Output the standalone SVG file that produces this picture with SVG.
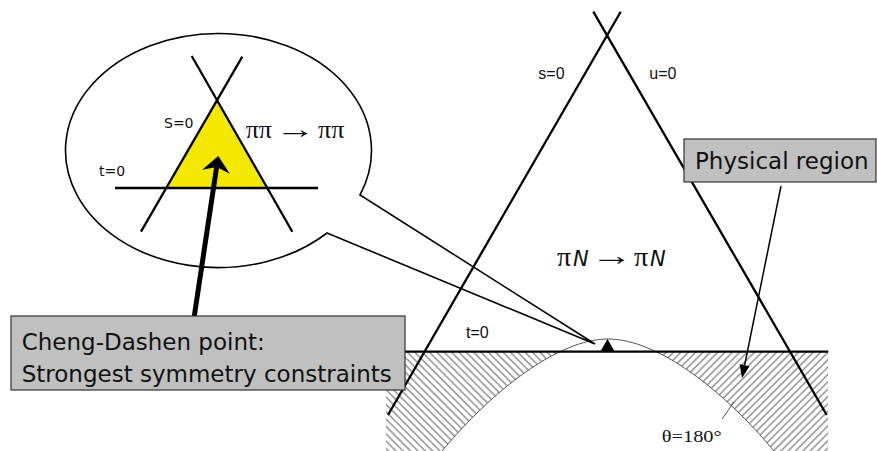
<svg xmlns="http://www.w3.org/2000/svg" width="877" height="451" viewBox="0 0 877 451">
<style>
.ln{stroke:#000;stroke-width:2.3;fill:none}
.thin{stroke:#444;stroke-width:0.9;fill:none}
.lab{font-family:"Liberation Sans",Arial,sans-serif;font-size:16px;fill:#111}
.elab{font-family:"DejaVu Sans",Verdana,sans-serif;font-size:14px;fill:#111}
.box{fill:#c0c0c0;stroke:#333;stroke-width:1.2}
.btxt{font-family:"DejaVu Sans",Verdana,sans-serif;font-size:23px;fill:#111}
.ser{font-family:"Liberation Serif","Times New Roman",serif;fill:#111}
.nit{font-family:"DejaVu Sans",Verdana,sans-serif;font-style:italic;font-size:21px;fill:#111}
</style>
<defs>
<pattern id="hL" width="5.2" height="5.2" patternUnits="userSpaceOnUse" patternTransform="rotate(45)">
<line x1="0" y1="2.6" x2="5.2" y2="2.6" stroke="#333" stroke-width="0.8"/>
</pattern>
<pattern id="hR" width="5.2" height="5.2" patternUnits="userSpaceOnUse" patternTransform="rotate(-45)">
<line x1="0" y1="2.6" x2="5.2" y2="2.6" stroke="#333" stroke-width="0.8"/>
</pattern>
<mask id="mk">
<rect x="386" y="352" width="442" height="99" fill="#fff"/>
<path d="M442,451 C492,391 558,339 608,339 C658,339 724,391 774,451 Z" fill="#000"/>
</mask>
</defs>
<rect width="877" height="451" fill="#fff"/>

<g id="hatch">
<rect x="386" y="352" width="222" height="99" fill="url(#hL)" mask="url(#mk)"/>
<rect x="608" y="352" width="220" height="99" fill="url(#hR)" mask="url(#mk)"/>
<path class="thin" d="M442,451 C492,391 558,339 608,339 C658,339 724,391 774,451"/>
</g>

<g id="callout">
<path d="M327,233 L595,344 L360,195 A153,117 0 1 0 327,233 Z" fill="#fff" stroke="#000" stroke-width="1.6"/>
<polygon points="216.7,100 167.5,188 266.5,188" fill="#f4e800"/>
<line class="ln" x1="191.7" y1="56" x2="292.3" y2="231.7" stroke-width="2"/>
<line class="ln" x1="242.3" y1="56.7" x2="141" y2="231.7" stroke-width="2"/>
<line class="ln" x1="115" y1="188" x2="318" y2="188" stroke-width="2.4"/>
<text class="elab" x="164" y="128.3">S=0</text>
<text class="elab" x="99" y="175.7">t=0</text>
<text class="ser" x="245.7" y="138.3" font-size="26">ππ</text>
<text class="ser" transform="translate(275.5,138.3) scale(1.55,1)" font-size="26">→</text>
<text class="ser" x="318" y="138.3" font-size="26">ππ</text>
</g>

<g id="connectors">
<line class="ln" x1="620.7" y1="11.7" x2="388" y2="415"/>
<line class="ln" x1="593.3" y1="11.7" x2="826.7" y2="415"/>
<line class="ln" x1="405" y1="351.7" x2="828.3" y2="351.7"/>
<polygon points="600,352 615,352 607.5,339" fill="#000"/>
<line x1="722" y1="419" x2="734" y2="402" stroke="#444" stroke-width="0.9"/>
<line x1="194" y1="318" x2="216.8" y2="166" stroke="#000" stroke-width="5"/>
<polygon points="218.3,156 229.8,173.8 216.7,166.9 202.2,169.8" fill="#000"/>
<line x1="781" y1="186" x2="744.6" y2="365.3" stroke="#000" stroke-width="1.5"/>
<polygon points="742,378 749.5,366.3 739.7,364.3" fill="#000"/>
</g>

<g id="labels">
<text class="lab" x="538.3" y="79.3">s=0</text>
<text class="lab" x="649.3" y="79.3">u=0</text>
<text class="lab" x="466" y="337.7">t=0</text>
<text class="ser" x="557" y="266" font-size="28">π</text>
<text class="nit" x="573" y="266">N</text>
<text class="ser" transform="translate(591,265) scale(1.5,1)" font-size="28">→</text>
<text class="ser" x="634" y="266" font-size="28">π</text>
<text class="nit" x="650" y="266">N</text>
<text class="ser" x="661.7" y="441.7" font-size="17" textLength="60" lengthAdjust="spacingAndGlyphs">θ=180°</text>
</g>

<g id="physical">
<rect class="box" x="684" y="139" width="192" height="43"/>
<text class="btxt" x="695" y="169.3">Physical region</text>
</g>

<g id="chengdashen">
<rect class="box" x="11" y="316" width="394" height="74"/>
<text class="btxt" x="21.7" y="350">Cheng-Dashen point:</text>
<text class="btxt" x="21.7" y="382">Strongest symmetry constraints</text>
</g>
</svg>
